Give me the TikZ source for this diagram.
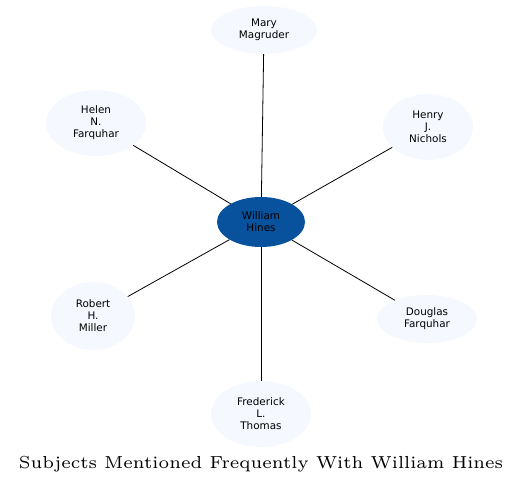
\documentclass[tikz,border=0pt]{standalone}
\usepackage{fontspec}
\newfontfamily\nodefont{DejaVu Sans}
\usetikzlibrary{shapes.geometric}
\definecolor{lightnode}{HTML}{F5F9FF}
\definecolor{hubblue}{HTML}{08519C}
\tikzset{
  subj/.style={ellipse, fill=lightnode, draw=none, inner sep=0pt, align=center,
    font=\nodefont\fontsize{10.4}{12}\selectfont, text=black},
  hub/.style={subj, fill=hubblue},
  link/.style={draw=black, line width=0.8pt},
}
\begin{document}
\begin{tikzpicture}[x=1pt,y=-1pt]
\useasboundingbox (0,0) rectangle (524,484);
\node[hub, minimum width=88, minimum height=50] (hines) at (261,222) {William\\Hines};
\node[subj, minimum width=106, minimum height=48] (mary) at (264,30) {Mary\\Magruder};
\node[subj, minimum width=100, minimum height=66] (helen) at (96,123) {Helen\\N.\\Farquhar};
\node[subj, minimum width=90, minimum height=66] (henry) at (428,127) {Henry\\J.\\Nichols};
\node[subj, minimum width=84, minimum height=68] (robert) at (93,316) {Robert\\H.\\Miller};
\node[subj, minimum width=100, minimum height=48] (douglas) at (427,319) {Douglas\\Farquhar};
\node[subj, minimum width=100, minimum height=66] (fred) at (261,414) {Frederick\\L.\\Thomas};
\foreach \n in {mary,helen,henry,robert,douglas,fred} \draw[link] (hines) -- (\n);
\node[font=\fontsize{6}{7}\selectfont, scale=2.9, anchor=base] (title) at (261,468) {Subjects Mentioned Frequently With William Hines};
\end{tikzpicture}
\end{document}
